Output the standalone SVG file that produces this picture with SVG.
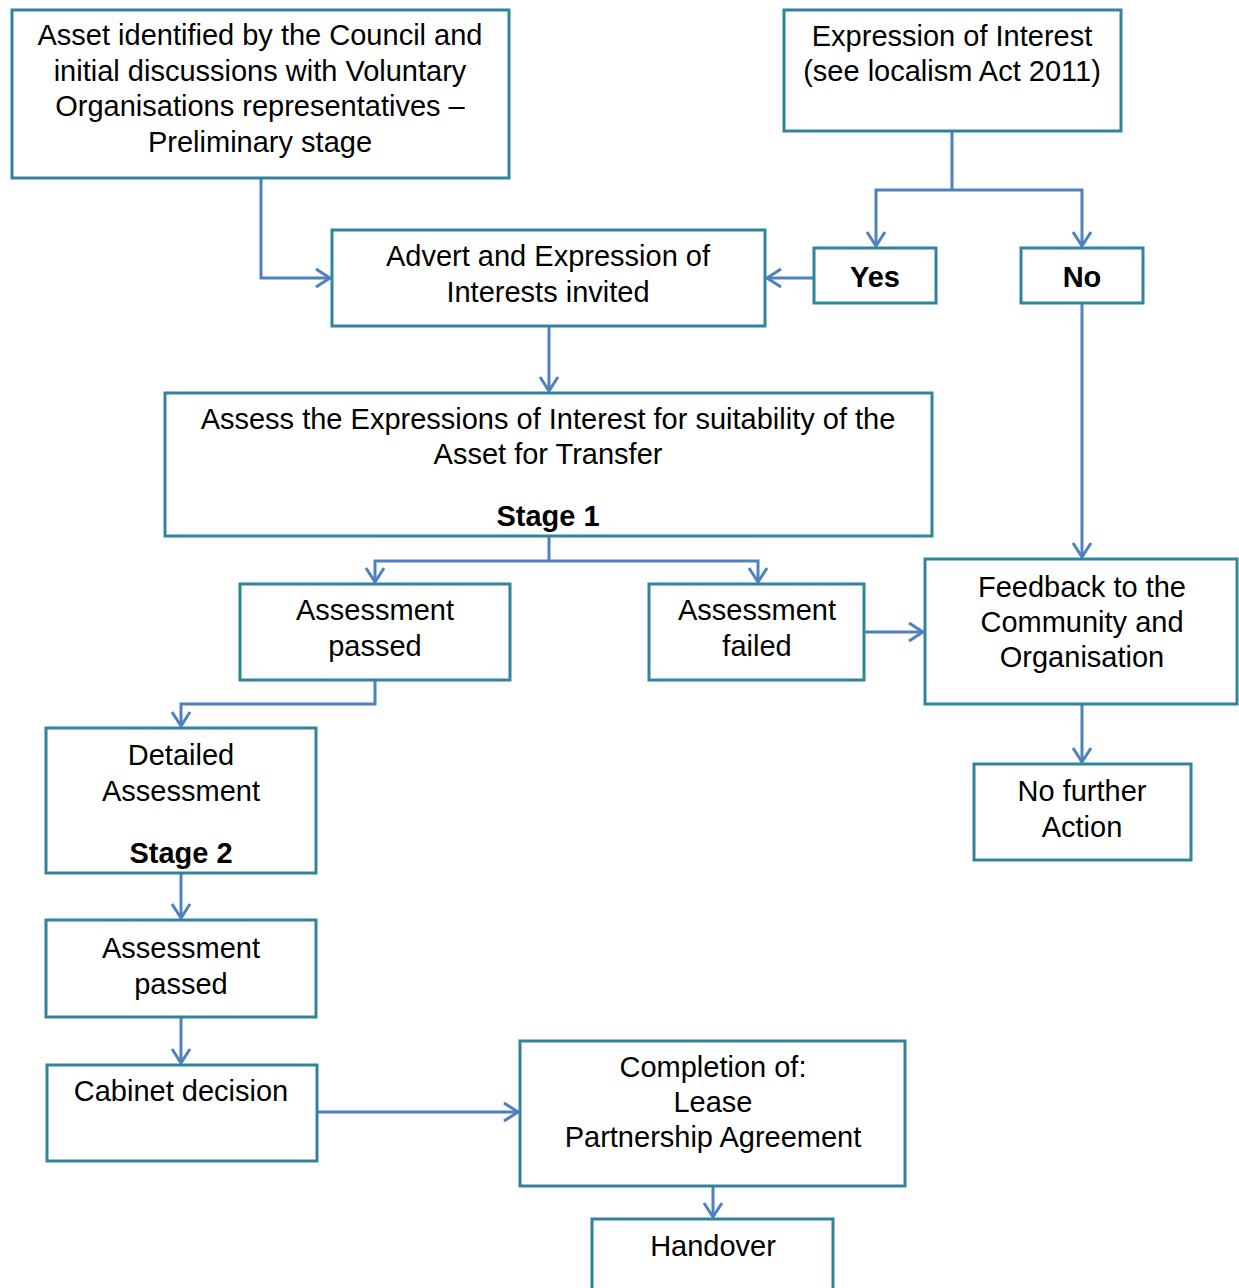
<svg xmlns="http://www.w3.org/2000/svg" width="1239" height="1288" viewBox="0 0 1239 1288">
<style>
.box{fill:#fff;stroke:#31849B;stroke-width:3}
.t{font-family:"Liberation Sans",Arial,sans-serif;font-size:29px;fill:#000;text-anchor:middle}
.b{font-weight:bold}
.c{fill:none;stroke:#4F81BD;stroke-width:3;marker-end:url(#ah)}
.cn{fill:none;stroke:#4F81BD;stroke-width:3}
</style>
<defs>
<marker id="ah" markerUnits="userSpaceOnUse" viewBox="-16 -12 18 24" refX="0" refY="0" markerWidth="18" markerHeight="24" orient="auto">
<path d="M-14,-9 L0,0 L-14,9" fill="none" stroke="#4F81BD" stroke-width="3"/>
</marker>
</defs>
<rect width="1239" height="1288" fill="#fff"/>
<g id="connectors">
<path class="c" d="M261,178 V278 H330"/>
<path class="cn" d="M952,131 V190"/>
<path class="c" d="M952,190 H876 V246"/>
<path class="c" d="M952,190 H1082 V246"/>
<path class="c" d="M814,278 H767"/>
<path class="c" d="M1082,303 V557"/>
<path class="c" d="M549,326 V391"/>
<path class="cn" d="M549,536 V561"/>
<path class="c" d="M549,561 H375 V582"/>
<path class="c" d="M549,561 H758 V582"/>
<path class="c" d="M864,632 H923"/>
<path class="c" d="M375,680 V704 H181 V726"/>
<path class="c" d="M1082,704 V762"/>
<path class="c" d="M181,873 V918"/>
<path class="c" d="M181,1017 V1063"/>
<path class="c" d="M317,1112 H518"/>
<path class="c" d="M713,1186 V1217"/>
</g>
<g id="n_asset">
<rect class="box" x="12" y="10" width="497" height="168"/>
<text class="t" x="260" y="45">Asset identified by the Council and</text>
<text class="t" x="260" y="81">initial discussions with Voluntary</text>
<text class="t" x="260" y="116">Organisations representatives –</text>
<text class="t" x="260" y="152">Preliminary stage</text>
</g>
<g id="n_eoi">
<rect class="box" x="784" y="10" width="337" height="121"/>
<text class="t" x="952" y="46">Expression of Interest</text>
<text class="t" x="952" y="81">(see localism Act 2011)</text>
</g>
<g id="n_yes">
<rect class="box" x="814" y="248" width="122" height="55"/>
<text class="t b" x="875" y="287">Yes</text>
</g>
<g id="n_no">
<rect class="box" x="1021" y="248" width="122" height="55"/>
<text class="t b" x="1082" y="287">No</text>
</g>
<g id="n_advert">
<rect class="box" x="332" y="230" width="433" height="96"/>
<text class="t" x="548" y="266">Advert and Expression of</text>
<text class="t" x="548" y="302">Interests invited</text>
</g>
<g id="n_assess">
<rect class="box" x="165" y="393" width="767" height="143"/>
<text class="t" x="548" y="429">Assess the Expressions of Interest for suitability of the</text>
<text class="t" x="548" y="464">Asset for Transfer</text>
<text class="t b" x="548" y="526">Stage 1</text>
</g>
<g id="n_passed1">
<rect class="box" x="240" y="584" width="270" height="96"/>
<text class="t" x="375" y="620">Assessment</text>
<text class="t" x="375" y="656">passed</text>
</g>
<g id="n_failed">
<rect class="box" x="649" y="584" width="215" height="96"/>
<text class="t" x="757" y="620">Assessment</text>
<text class="t" x="757" y="656">failed</text>
</g>
<g id="n_feedback">
<rect class="box" x="925" y="559" width="312" height="145"/>
<text class="t" x="1082" y="597">Feedback to the</text>
<text class="t" x="1082" y="632">Community and</text>
<text class="t" x="1082" y="667">Organisation</text>
</g>
<g id="n_nofurther">
<rect class="box" x="974" y="764" width="217" height="96"/>
<text class="t" x="1082" y="801">No further</text>
<text class="t" x="1082" y="837">Action</text>
</g>
<g id="n_detailed">
<rect class="box" x="46" y="728" width="270" height="145"/>
<text class="t" x="181" y="765">Detailed</text>
<text class="t" x="181" y="801">Assessment</text>
<text class="t b" x="181" y="863">Stage 2</text>
</g>
<g id="n_passed2">
<rect class="box" x="46" y="920" width="270" height="97"/>
<text class="t" x="181" y="958">Assessment</text>
<text class="t" x="181" y="994">passed</text>
</g>
<g id="n_cabinet">
<rect class="box" x="47" y="1065" width="270" height="96"/>
<text class="t" x="181" y="1101">Cabinet decision</text>
</g>
<g id="n_completion">
<rect class="box" x="520" y="1041" width="385" height="145"/>
<text class="t" x="713" y="1077">Completion of:</text>
<text class="t" x="713" y="1112">Lease</text>
<text class="t" x="713" y="1147">Partnership Agreement</text>
</g>
<g id="n_handover">
<rect class="box" x="592" y="1219" width="241" height="80"/>
<text class="t" x="713" y="1256">Handover</text>
</g>
</svg>
